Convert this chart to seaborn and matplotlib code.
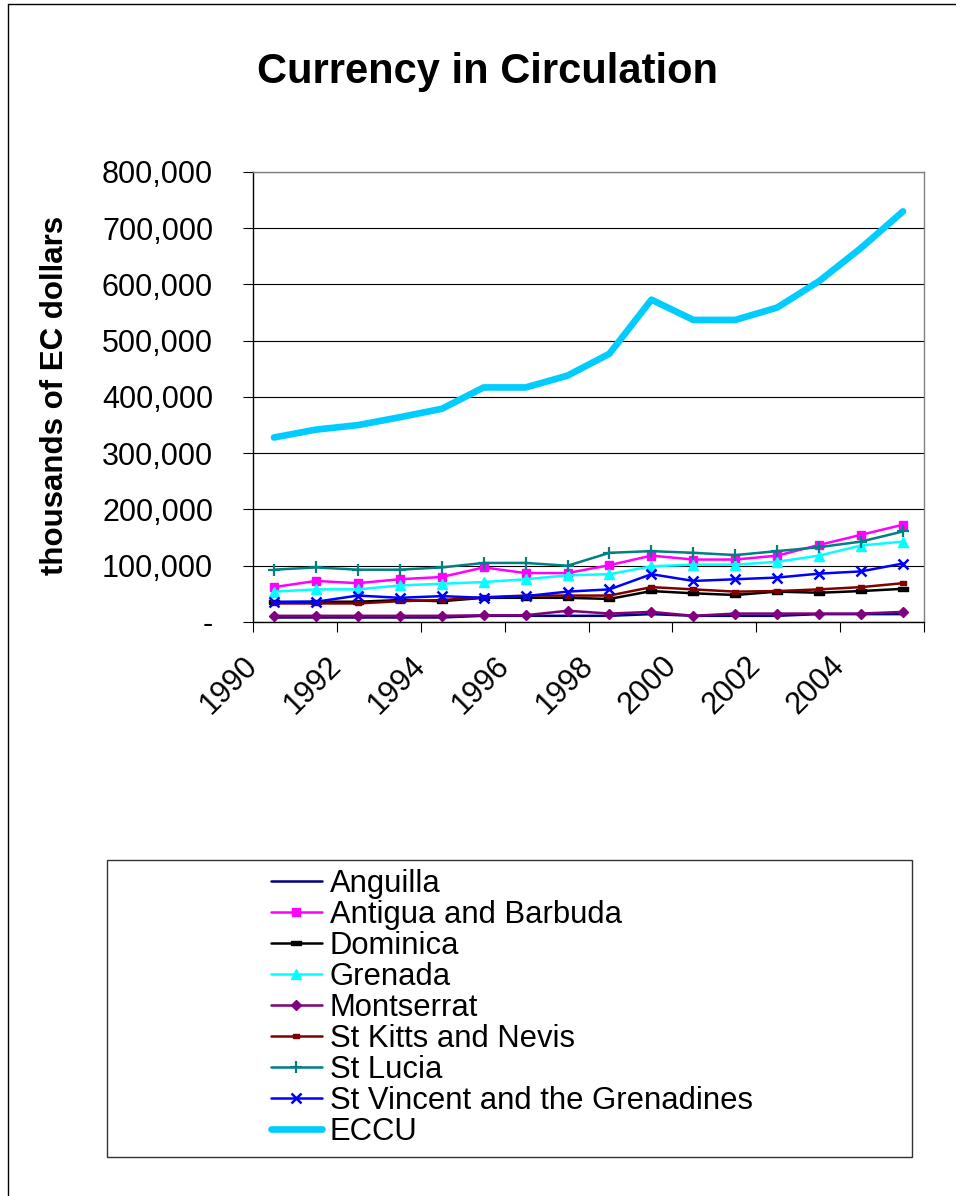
import numpy as np
import pandas as pd
import matplotlib
matplotlib.use("Agg")
import matplotlib.pyplot as plt
import seaborn as sns
from matplotlib.lines import Line2D
from matplotlib.patches import Rectangle

# ---------------- data ----------------
years = list(range(1990, 2006))
anguilla = [8000, 8000, 8000, 8000, 8000, 11000, 11000, 11000, 11000, 14000,
            11000, 11000, 11000, 14000, 14000, 14000]
antigua = [62000, 73000, 69000, 76000, 80000, 97000, 87000, 87000, 101000, 118000,
           111000, 111000, 118000, 137000, 155000, 173000]
dominica = [35000, 36000, 36000, 39000, 37000, 43000, 43000, 43000, 41000, 55000,
            51000, 48000, 54000, 52000, 55000, 59000]
grenada = [54000, 58000, 58000, 65000, 68000, 71000, 76000, 83000, 85000, 99000,
           102000, 102000, 107000, 118000, 136000, 143000]
montserrat = [11000, 11000, 11000, 11000, 11000, 12000, 12000, 20000, 15000, 18000,
              11000, 15000, 15000, 15000, 15000, 18000]
st_kitts = [33000, 33000, 33000, 37000, 39000, 44000, 47000, 47000, 47000, 62000,
            58000, 54000, 55000, 58000, 62000, 69000]
st_lucia = [93000, 97000, 93000, 93000, 97000, 105000, 105000, 100000, 123000, 126000,
            123000, 119000, 126000, 133000, 143000, 161000]
st_vincent = [36000, 36000, 47000, 43000, 46000, 43000, 46000, 54000, 58000, 85000,
              73000, 76000, 79000, 86000, 90000, 104000]
eccu = [328000, 342000, 350000, 364000, 379000, 417000, 417000, 438000, 477000, 573000,
        537000, 537000, 559000, 606000, 665000, 730000]

series_names = ["Anguilla", "Antigua and Barbuda", "Dominica", "Grenada", "Montserrat",
                "St Kitts and Nevis", "St Lucia", "St Vincent and the Grenadines", "ECCU"]
series_values = [anguilla, antigua, dominica, grenada, montserrat,
                 st_kitts, st_lucia, st_vincent, eccu]

x_tick_labels = ["1990", "1992", "1994", "1996", "1998", "2000", "2002", "2004", ""]
y_ticks = [0, 100000, 200000, 300000, 400000, 500000, 600000, 700000, 800000]
y_tick_labels = ["-" if v == 0 else f"{v:,}" for v in y_ticks]
title_text = "Currency in Circulation"
ylabel_text = "thousands of EC dollars"

# ---------------- styles ----------------
dash_marker = [(-1, -0.45), (1, -0.45), (1, 0.45), (-1, 0.45), (-1, -0.45)]
kitts_marker = [(-1, -0.7), (1, -0.7), (1, 0.7), (-1, 0.7), (-1, -0.7)]
styles = {
    "Anguilla": dict(color="#000080", marker=None, lw=1.8),
    "Antigua and Barbuda": dict(color="#FF00FF", marker="s", ms=6.0, lw=1.8),
    "Dominica": dict(color="#000000", marker=dash_marker, ms=6.5, lw=1.8),
    "Grenada": dict(color="#00FFFF", marker="^", ms=6.5, lw=1.8),
    "Montserrat": dict(color="#800080", marker="D", ms=5.5, lw=1.8),
    "St Kitts and Nevis": dict(color="#800000", marker=kitts_marker, ms=5.0, lw=1.8),
    "St Lucia": dict(color="#008080", marker="+", ms=8.0, lw=1.8, mew=1.6),
    "St Vincent and the Grenadines": dict(color="#0000FF", marker="x", ms=7.0, lw=1.8, mew=1.8),
    "ECCU": dict(color="#00CCFF", marker=None, lw=4.8),
}

sns.set_style("white")
plt.rcParams["font.family"] = ["Liberation Sans", "DejaVu Sans"]
plt.rcParams["text.color"] = "black"
plt.rcParams["axes.labelcolor"] = "black"
plt.rcParams["xtick.color"] = "black"
plt.rcParams["ytick.color"] = "black"

W, H = 956, 1196
fig = plt.figure(figsize=(W / 100, H / 100), dpi=100)
ax = fig.add_axes([253 / W, 1 - 622 / H, 671 / W, 450 / H])

xpos = np.arange(len(years))
for name, vals in zip(series_names, series_values):
    st = styles[name]
    df = pd.DataFrame({"x": xpos, "y": vals})
    kw = dict(color=st["color"], linewidth=st["lw"], label=name, ax=ax, legend=False)
    if st.get("marker") is not None:
        kw.update(marker=st["marker"], markersize=st["ms"], markeredgecolor=st["color"],
                  markerfacecolor=st["color"], markeredgewidth=st.get("mew", 1.0))
    sns.lineplot(data=df, x="x", y="y", **kw)

ax.set_xlim(-0.5, len(years) - 0.5)
ax.set_ylim(0, 800000)
ax.set_xticks(np.arange(-0.5, len(years), 2))
ax.set_xticklabels(x_tick_labels)
ax.set_yticks(y_ticks)
ax.set_yticklabels(y_tick_labels)
ax.set_xlabel("")
ax.set_ylabel("")

ax.yaxis.grid(True, color="black", linewidth=0.8)
ax.xaxis.grid(False)
ax.set_axisbelow(True)

for side in ["left", "bottom"]:
    ax.spines[side].set_color("black")
    ax.spines[side].set_linewidth(1.0)
for side in ["top", "right"]:
    ax.spines[side].set_color("#808080")
    ax.spines[side].set_linewidth(1.0)

ax.tick_params(axis="y", direction="out", length=7.2, width=0.8, colors="black",
               pad=21.6, labelsize=22, left=True)
ax.tick_params(axis="x", direction="out", length=7.2, width=0.8, colors="black",
               pad=21, labelsize=22, bottom=True)
for lab in ax.get_xticklabels():
    lab.set_rotation(45)
    lab.set_ha("right")
    lab.set_va("center")
    lab.set_rotation_mode("anchor")

# title and y label
fig.text(487.5 / W, 1 - 83.5 / H, title_text, ha="center", va="baseline",
         fontsize=30, fontweight="bold", color="black")
fig.text(55 / W, 1 - 395 / H, ylabel_text, rotation=90, ha="center", va="center",
         fontsize=22.5, fontweight="bold", color="black")

# legend
handles = [h for h in ax.get_lines() if h.get_label() in series_names]
leg = ax.legend(handles, series_names, loc="center",
                bbox_to_anchor=(512 / W, 1 - 1008 / H), bbox_transform=fig.transFigure,
                frameon=False, fontsize=22.3, handlelength=1.62, handletextpad=0.26,
                labelspacing=0.03, borderpad=0, borderaxespad=0)
for t in leg.get_texts():
    t.set_color("black")

fig.add_artist(Rectangle((107 / W, 1 - 1157 / H), 805 / W, 297 / H,
                         transform=fig.transFigure, fill=False,
                         edgecolor="#333333", linewidth=1.0))

# outer chart border (left and top visible)
fig.add_artist(Line2D([7.5 / W, 7.5 / W], [0, 1 - 4 / H], transform=fig.transFigure,
                      color="black", linewidth=1.0))
fig.add_artist(Line2D([7.5 / W, 1], [1 - 4 / H, 1 - 4 / H], transform=fig.transFigure,
                      color="black", linewidth=1.0))

fig.savefig("out.png", dpi=100, facecolor="white")
